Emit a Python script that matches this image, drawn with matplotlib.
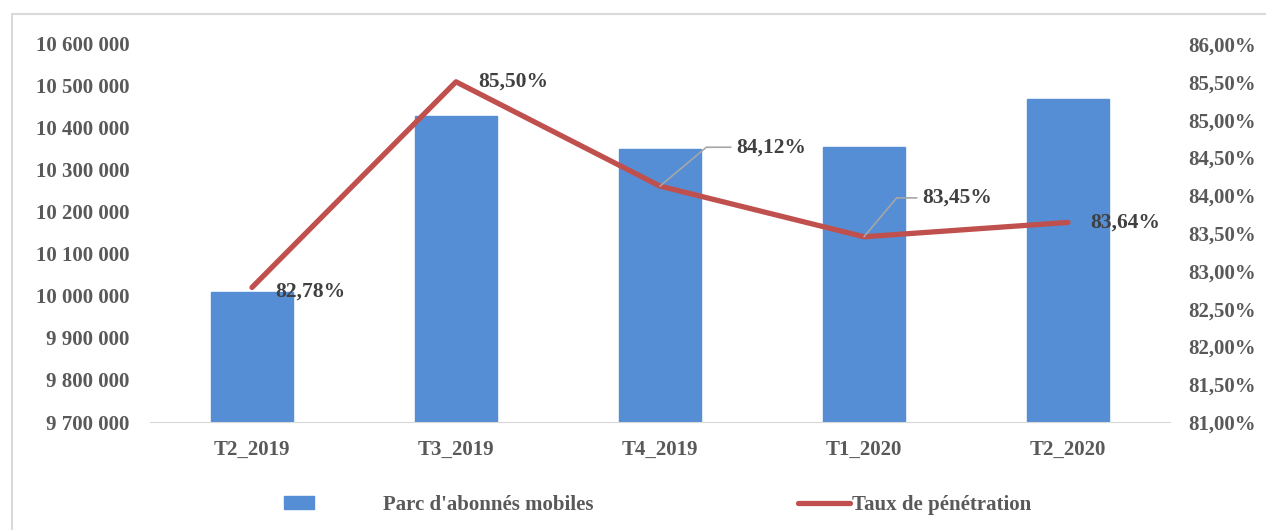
import matplotlib.pyplot as plt
from matplotlib.patches import Rectangle
from matplotlib.ticker import FuncFormatter

quarters = ['T2_2019', 'T3_2019', 'T4_2019', 'T1_2020', 'T2_2020']
subscribers = [10010000, 10429000, 10350000, 10355000, 10469000]
penetration = [82.78, 85.50, 84.12, 83.45, 83.64]
pen_labels = ['82,78%', '85,50%', '84,12%', '83,45%', '83,64%']

plt.rcParams['font.family'] = ['Liberation Serif', 'DejaVu Serif']
plt.rcParams['font.weight'] = 'bold'

fig = plt.figure(figsize=(12.66, 5.30), dpi=100)
ax = fig.add_axes([150 / 1266, 108 / 530, 1020 / 1266, 378 / 530])
ax2 = ax.twinx()

# light frame around the whole chart
fig.patches.append(Rectangle((12 / 1266, -0.01), 1.0, (530 - 14) / 530 + 0.01,
                             transform=fig.transFigure, fill=False,
                             edgecolor='#d9d9d9', linewidth=1.5))

x = range(len(quarters))
bars = ax.bar(x, subscribers, width=0.4, color='#558ED5', edgecolor='#558ED5',
              label="Parc d'abonnés mobiles", zorder=2)
ax.set_ylim(9700000, 10600000)
ax.set_yticks(range(9700000, 10600001, 100000))
ax.yaxis.set_major_formatter(FuncFormatter(lambda v, p: f'{int(v):,}'.replace(',', ' ')))
ax.set_xlim(-0.5, 4.5)
ax.set_xticks(list(x))
ax.set_xticklabels(quarters)

line, = ax2.plot(x, penetration, color='#C0504D', linewidth=3.8, solid_capstyle='round',
                 label='Taux de pénétration', zorder=3)
ax2.set_ylim(81, 86)
ax2.set_yticks([81 + 0.5 * i for i in range(11)])
ax2.yaxis.set_major_formatter(FuncFormatter(lambda v, p: f'{v:.2f}%'.replace('.', ',')))

for a in (ax, ax2):
    for s in a.spines.values():
        s.set_visible(False)
    a.tick_params(length=0, labelsize=15, labelcolor='#595959')
ax.spines['bottom'].set_visible(True)
ax.spines['bottom'].set_color('#d9d9d9')
ax.tick_params(axis='y', pad=15)
ax.tick_params(axis='x', pad=13)
ax2.tick_params(axis='y', pad=13)

lab_kw = dict(fontsize=15.5, color='#404040', fontweight='bold')
# data labels
ax2.annotate(pen_labels[0], (0, penetration[0]), xytext=(17, -3), textcoords='offset points',
             ha='left', va='center', **lab_kw)
ax2.annotate(pen_labels[1], (1, penetration[1]), xytext=(16, 0), textcoords='offset points',
             ha='left', va='center', **lab_kw)
ax2.annotate(pen_labels[2], (2, penetration[2]), xytext=(55, 28), textcoords='offset points',
             ha='left', va='center',
             arrowprops=dict(arrowstyle='-', color='#a6a6a6', lw=1.2,
                             connectionstyle='angle,angleA=0,angleB=40,rad=0',
                             shrinkA=2, shrinkB=0),
             **lab_kw)
ax2.annotate(pen_labels[3], (3, penetration[3]), xytext=(42, 28), textcoords='offset points',
             ha='left', va='center',
             arrowprops=dict(arrowstyle='-', color='#a6a6a6', lw=1.2,
                             connectionstyle='angle,angleA=0,angleB=50,rad=0',
                             shrinkA=2, shrinkB=0),
             **lab_kw)
ax2.annotate(pen_labels[4], (4, penetration[4]), xytext=(16, 0), textcoords='offset points',
             ha='left', va='center', **lab_kw)

leg_kw = dict(loc='center left', frameon=False, fontsize=15, labelcolor='#595959',
              borderpad=0, borderaxespad=0)
leg1 = fig.legend([bars], ["Parc d'abonnés mobiles"], bbox_to_anchor=(284 / 1266, 25 / 530),
                  handlelength=1.45, handleheight=0.6, handletextpad=3.3, **leg_kw)
leg2 = fig.legend([line], ['Taux de pénétration'], bbox_to_anchor=(798 / 1266, 25 / 530),
                  handlelength=2.5, handletextpad=0.1, **leg_kw)

fig.savefig('out.png', dpi=100)
